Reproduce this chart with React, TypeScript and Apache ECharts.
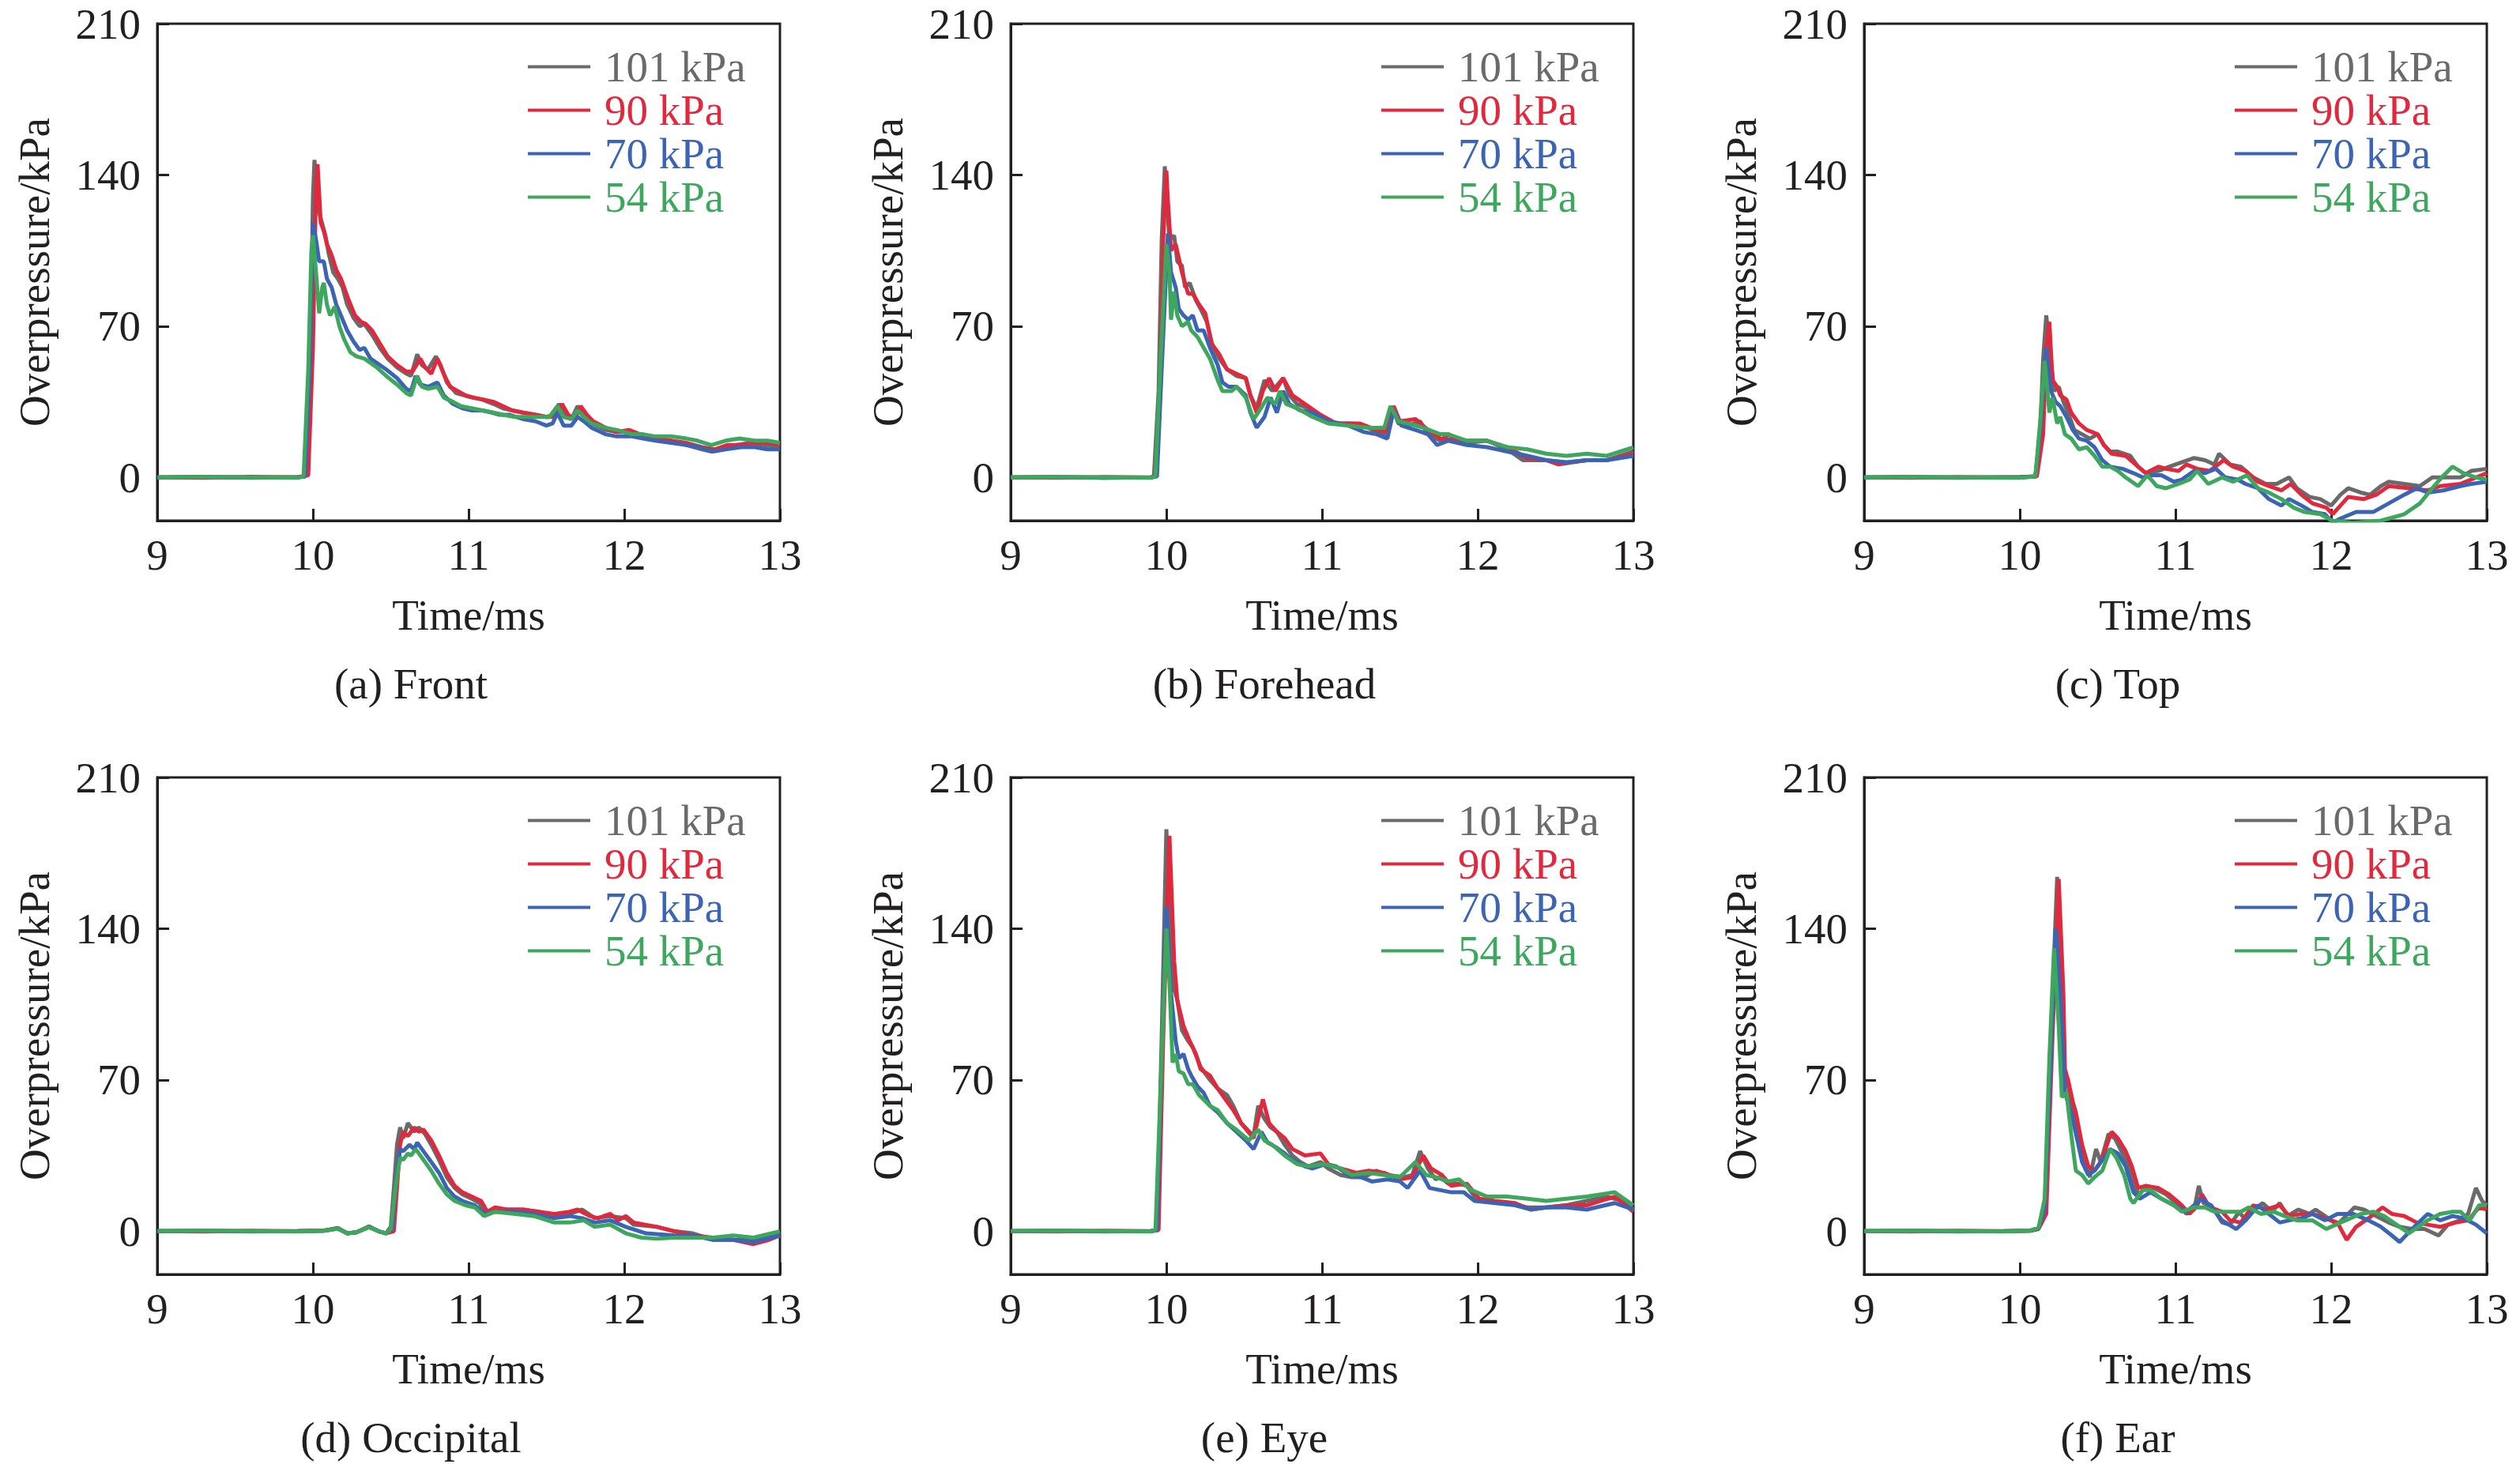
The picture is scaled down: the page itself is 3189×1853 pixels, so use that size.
import React, { useEffect, useRef } from "react";
import * as echarts from "echarts";

const NAMES = ["101 kPa", "90 kPa", "70 kPa", "54 kPa"];
const COLORS = ["#6a6a6a", "#e2283d", "#3c64b4", "#3ea75e"];
const Y_TICKS = [0, 70, 140, 210];
const X_MIN = 9;
const X_MAX = 13;
const Y_MIN = -20;
const Y_MAX = 210;
const CAPTIONS = ["(a) Front", "(b) Forehead", "(c) Top", "(d) Occipital", "(e) Eye", "(f) Ear"];

// (a) Front
const A_101 = [[9,0],[9.3,0.3],[9.6,-0.2],[9.9,0.2],[9.95,0.5],[9.98,40],[10.0,130],[10.01,147],[10.03,125],[10.05,120],[10.08,112],[10.1,104],[10.13,95],[10.16,92],[10.19,88],[10.22,80],[10.26,74],[10.3,70],[10.33,71],[10.38,66],[10.43,60],[10.48,55],[10.54,51],[10.6,48],[10.63,47],[10.67,57],[10.7,52],[10.74,50],[10.79,56],[10.82,52],[10.86,44],[10.92,39],[10.97,38],[11.02,37],[11.09,36],[11.16,34],[11.22,32],[11.28,31],[11.35,30],[11.43,29],[11.5,28],[11.55,29],[11.58,34],[11.62,29],[11.66,27],[11.7,33],[11.74,29],[11.79,25],[11.88,22],[11.95,21],[12.02,21],[12.1,19],[12.2,18],[12.3,17],[12.4,15],[12.5,13],[12.56,12],[12.64,14],[12.72,15],[12.81,16],[12.9,15],[13,14]];
const A_90 = [[9,0],[9.3,-0.2],[9.6,0.3],[9.9,0],[9.97,1],[10.0,60],[10.02,135],[10.03,145],[10.05,118],[10.07,114],[10.09,108],[10.12,103],[10.15,96],[10.18,92],[10.2,88],[10.23,82],[10.27,75],[10.31,72],[10.34,71],[10.38,68],[10.43,62],[10.48,56],[10.54,52],[10.6,49],[10.64,49],[10.69,55],[10.72,51],[10.76,48],[10.8,55],[10.84,48],[10.88,42],[10.93,40],[10.98,38],[11.03,37],[11.1,36],[11.16,35],[11.22,33],[11.28,31],[11.35,30],[11.43,29],[11.5,28],[11.56,28],[11.6,34],[11.64,29],[11.68,27],[11.72,33],[11.76,29],[11.8,26],[11.88,23],[11.95,21],[12.03,22],[12.1,20],[12.2,18],[12.3,17],[12.4,16],[12.5,14],[12.58,13],[12.66,15],[12.75,15],[12.85,16],[12.93,16],[13,15]];
const A_70 = [[9,0],[9.3,0.2],[9.6,-0.1],[9.9,0],[9.95,0.5],[9.98,50],[10.0,118],[10.02,110],[10.04,100],[10.07,100],[10.09,92],[10.12,88],[10.15,80],[10.18,75],[10.22,68],[10.26,63],[10.3,59],[10.33,60],[10.37,55],[10.41,53],[10.47,50],[10.54,46],[10.6,41],[10.63,40],[10.66,47],[10.69,43],[10.74,42],[10.8,44],[10.84,38],[10.9,34],[10.96,32],[11.02,31],[11.09,31],[11.15,30],[11.2,29],[11.26,29],[11.35,27],[11.43,26],[11.5,24],[11.54,25],[11.57,30],[11.61,24],[11.66,24],[11.7,28],[11.74,26],[11.79,23],[11.88,20],[11.95,19],[12.05,19],[12.12,18],[12.2,17],[12.3,16],[12.4,15],[12.48,14],[12.57,12],[12.65,13],[12.75,14],[12.84,14],[12.92,13],[13,13]];
const A_54 = [[9,0],[9.3,0.2],[9.6,0],[9.9,-0.2],[9.94,0.5],[9.97,50],[9.99,105],[10.0,112],[10.02,95],[10.04,76],[10.06,88],[10.07,90],[10.09,80],[10.11,75],[10.14,79],[10.17,70],[10.2,64],[10.24,58],[10.28,56],[10.33,55],[10.37,53],[10.41,51],[10.47,47],[10.54,43],[10.6,39],[10.63,38],[10.67,47],[10.7,42],[10.74,41],[10.8,42],[10.84,37],[10.9,35],[10.95,33],[11.02,32],[11.09,31],[11.16,30],[11.22,29],[11.3,28],[11.38,28],[11.45,28],[11.52,28],[11.57,33],[11.61,28],[11.66,27],[11.7,31],[11.74,28],[11.79,25],[11.88,23],[11.95,22],[12.05,20],[12.12,20],[12.2,19],[12.3,19],[12.4,18],[12.47,17],[12.56,15],[12.65,17],[12.74,18],[12.84,17],[12.92,17],[13,16]];

// (b) Forehead
const B_101 = [[9,0],[9.3,0.2],[9.6,-0.2],[9.9,0],[9.92,0.5],[9.95,40],[9.97,110],[9.99,144],[10.0,130],[10.02,110],[10.05,112],[10.07,100],[10.1,98],[10.12,88],[10.15,90],[10.19,82],[10.22,78],[10.26,72],[10.3,60],[10.34,55],[10.39,50],[10.45,47],[10.51,46],[10.54,38],[10.58,32],[10.63,45],[10.68,40],[10.75,46],[10.79,38],[10.84,34],[10.91,32],[10.99,28],[11.04,26],[11.12,25],[11.19,25],[11.27,24],[11.35,21],[11.41,20],[11.45,33],[11.49,25],[11.55,24],[11.63,26],[11.68,20],[11.76,17],[11.81,20],[11.93,16],[12.06,17],[12.19,13],[12.29,8],[12.44,8],[12.57,7],[12.7,8],[12.83,8],[13,12]];
const B_90 = [[9,0],[9.3,-0.2],[9.6,0.2],[9.9,0],[9.93,0.5],[9.96,40],[9.98,110],[10.0,142],[10.01,128],[10.03,105],[10.06,108],[10.1,95],[10.14,85],[10.17,85],[10.21,80],[10.25,76],[10.29,62],[10.34,57],[10.39,50],[10.45,48],[10.51,46],[10.54,38],[10.58,30],[10.62,40],[10.66,46],[10.7,40],[10.75,46],[10.81,38],[10.89,34],[10.99,29],[11.09,25],[11.24,25],[11.35,22],[11.42,21],[11.46,33],[11.5,26],[11.6,27],[11.68,22],[11.76,18],[11.93,17],[12.06,17],[12.19,14],[12.32,9],[12.44,8],[12.52,6],[12.7,8],[12.83,8],[13,11]];
const B_70 = [[9,0],[9.3,0.2],[9.6,-0.2],[9.9,0],[9.94,0.5],[9.97,50],[10.01,113],[10.03,95],[10.06,88],[10.08,78],[10.11,75],[10.14,73],[10.17,75],[10.2,68],[10.24,68],[10.28,60],[10.33,52],[10.36,44],[10.4,42],[10.45,42],[10.51,38],[10.54,30],[10.58,23],[10.63,28],[10.67,37],[10.71,30],[10.75,40],[10.79,34],[10.86,31],[10.94,30],[11.04,26],[11.17,24],[11.27,21],[11.35,20],[11.42,18],[11.46,31],[11.51,24],[11.6,22],[11.68,20],[11.74,15],[11.81,17],[11.93,15],[12.06,14],[12.19,12],[12.32,10],[12.44,8],[12.57,7],[12.7,8],[12.83,8],[13,10]];
const B_54 = [[9,0],[9.3,0.2],[9.6,0],[9.9,-0.2],[9.93,0.5],[9.96,50],[10.0,108],[10.02,95],[10.03,73],[10.05,86],[10.07,75],[10.1,70],[10.14,72],[10.16,68],[10.2,65],[10.24,60],[10.28,55],[10.33,45],[10.36,40],[10.42,40],[10.45,42],[10.51,37],[10.56,27],[10.59,30],[10.65,37],[10.7,34],[10.73,40],[10.77,34],[10.84,32],[10.94,28],[11.04,25],[11.17,24],[11.3,23],[11.4,23],[11.44,33],[11.49,26],[11.55,25],[11.65,23],[11.76,20],[11.81,20],[11.93,17],[12.06,17],[12.19,14],[12.32,13],[12.44,11],[12.57,10],[12.7,11],[12.83,10],[13,14]];

// (c) Top
const C_101 = [[9,0],[9.3,0.2],[9.6,-0.2],[10.0,0.2],[10.1,0.5],[10.13,20],[10.15,55],[10.17,75],[10.2,55],[10.22,40],[10.25,42],[10.28,35],[10.31,30],[10.35,22],[10.4,20],[10.45,18],[10.5,20],[10.54,15],[10.58,12],[10.63,12],[10.71,10],[10.76,5],[10.81,2],[10.89,3],[10.96,5],[11.04,7],[11.12,9],[11.19,8],[11.25,6],[11.28,11],[11.35,6],[11.42,5],[11.5,0],[11.58,-3],[11.65,-3],[11.73,0],[11.78,-5],[11.86,-9],[11.93,-10],[12.0,-13],[12.06,-8],[12.11,-5],[12.19,-7],[12.25,-8],[12.32,-4],[12.37,-2],[12.47,-3],[12.57,-4],[12.65,0],[12.78,0],[12.83,0],[12.9,3],[13,4]];
const C_90 = [[9,0],[9.3,-0.2],[9.6,0.2],[10.0,0],[10.11,0.5],[10.15,20],[10.17,60],[10.19,72],[10.21,45],[10.24,42],[10.26,38],[10.3,36],[10.33,30],[10.38,25],[10.43,22],[10.5,20],[10.54,15],[10.59,11],[10.68,10],[10.76,5],[10.81,2],[10.89,5],[10.94,4],[11.02,3],[11.07,6],[11.14,4],[11.22,3],[11.31,8],[11.37,5],[11.45,3],[11.53,-2],[11.6,-4],[11.68,-6],[11.74,-3],[11.81,-8],[11.88,-12],[11.97,-14],[12.01,-17],[12.06,-13],[12.11,-9],[12.21,-10],[12.29,-8],[12.37,-4],[12.5,-5],[12.62,-6],[12.7,-4],[12.83,-3],[13,2]];
const C_70 = [[9,0],[9.3,0.2],[9.6,-0.1],[10.0,0.1],[10.1,0.5],[10.13,20],[10.17,60],[10.2,40],[10.23,35],[10.26,33],[10.3,28],[10.34,22],[10.38,18],[10.43,17],[10.48,14],[10.53,8],[10.58,5],[10.66,4],[10.73,2],[10.79,0],[10.84,1],[10.91,1],[10.99,-2],[11.04,-1],[11.12,3],[11.19,2],[11.26,4],[11.32,0],[11.4,-1],[11.45,-3],[11.53,-5],[11.6,-10],[11.68,-13],[11.73,-10],[11.81,-13],[11.88,-16],[11.96,-17],[12.01,-21],[12.06,-19],[12.16,-16],[12.27,-16],[12.37,-12],[12.47,-8],[12.55,-5],[12.62,-7],[12.72,-6],[12.83,-4],[12.9,-3],[13,-2]];
const C_54 = [[9,0],[9.3,0.2],[9.6,0],[10.0,-0.2],[10.1,0.5],[10.13,25],[10.16,54],[10.19,30],[10.21,37],[10.24,25],[10.26,28],[10.29,20],[10.33,18],[10.38,13],[10.43,14],[10.48,10],[10.53,5],[10.58,5],[10.63,3],[10.68,0],[10.76,-4],[10.82,1],[10.88,-4],[10.94,-5],[11.02,-3],[11.09,-1],[11.14,3],[11.21,-3],[11.3,0],[11.37,-2],[11.46,1],[11.53,-5],[11.6,-7],[11.68,-10],[11.76,-14],[11.83,-16],[11.93,-17],[12.01,-20],[12.14,-21],[12.32,-20],[12.47,-17],[12.57,-12],[12.65,-5],[12.71,0],[12.78,5],[12.85,2],[12.93,0],[13,-1]];

// (d) Occipital
const D_101 = [[9,0],[9.3,0.2],[9.6,-0.2],[9.9,0],[10.07,0.3],[10.16,1.5],[10.22,-1],[10.28,-0.5],[10.36,2],[10.42,0],[10.47,-1],[10.5,2],[10.52,20],[10.54,40],[10.56,48],[10.58,43],[10.61,50],[10.65,46],[10.68,48],[10.72,45],[10.76,40],[10.81,33],[10.86,25],[10.91,20],[10.96,17],[11.02,15],[11.07,13],[11.1,9],[11.17,10],[11.25,10],[11.35,10],[11.45,9],[11.55,7],[11.65,8],[11.73,10],[11.81,6],[11.91,7],[12.01,6],[12.06,3],[12.21,2],[12.32,0],[12.44,-1],[12.57,-4],[12.7,-4],[12.83,-4],[13,-1]];
const D_90 = [[9,0],[9.3,-0.2],[9.6,0.2],[9.9,0],[10.07,0.2],[10.16,1.2],[10.22,-1],[10.28,-0.5],[10.36,2.2],[10.42,0],[10.47,-1],[10.52,0],[10.54,20],[10.56,40],[10.58,46],[10.61,44],[10.65,48],[10.68,46],[10.71,47],[10.76,42],[10.81,35],[10.86,27],[10.91,21],[10.96,18],[11.02,16],[11.08,14],[11.12,9],[11.17,11],[11.25,10],[11.35,10],[11.45,9],[11.55,8],[11.65,9],[11.7,10],[11.78,7],[11.83,6],[11.91,8],[11.96,5],[12.01,7],[12.06,4],[12.21,2],[12.32,0],[12.44,-2],[12.57,-3],[12.7,-4],[12.83,-6],[12.93,-4],[13,-2]];
const D_70 = [[9,0],[9.3,0.2],[9.6,-0.1],[9.9,0],[10.07,0.2],[10.16,1.3],[10.22,-1],[10.28,-0.5],[10.36,2],[10.42,0],[10.47,-1],[10.51,1],[10.53,20],[10.56,38],[10.58,37],[10.62,40],[10.65,38],[10.67,41],[10.71,37],[10.76,32],[10.81,27],[10.86,20],[10.91,16],[10.96,14],[11.04,12],[11.1,8],[11.17,9],[11.3,9],[11.42,8],[11.55,6],[11.65,7],[11.73,6],[11.81,4],[11.91,5],[12.01,2],[12.14,-1],[12.32,-2],[12.44,-2],[12.57,-4],[12.7,-4],[12.83,-5],[13,-2]];
const D_54 = [[9,0],[9.3,0.2],[9.6,0],[9.9,-0.2],[10.07,0.2],[10.16,1.2],[10.22,-1],[10.28,-0.5],[10.36,1.8],[10.42,0],[10.47,-1],[10.5,1],[10.53,20],[10.56,34],[10.58,33],[10.61,36],[10.63,35],[10.66,38],[10.7,34],[10.76,28],[10.81,22],[10.86,17],[10.91,14],[10.98,12],[11.04,11],[11.1,7],[11.17,9],[11.3,8],[11.42,7],[11.55,4],[11.65,4],[11.74,5],[11.81,2],[11.91,3],[12.01,-1],[12.11,-3],[12.21,-3.5],[12.32,-3],[12.44,-3],[12.57,-3],[12.7,-2],[12.83,-3],[13,0]];

// (e) Eye
const E_101 = [[9,0],[9.3,0.2],[9.6,-0.2],[9.9,0],[9.94,0.5],[9.97,90],[10.0,186],[10.03,130],[10.05,112],[10.07,107],[10.1,93],[10.14,88],[10.17,85],[10.22,76],[10.28,70],[10.33,66],[10.39,63],[10.43,58],[10.48,50],[10.56,44],[10.59,58],[10.63,52],[10.67,48],[10.71,46],[10.76,40],[10.81,35],[10.86,32],[10.91,30],[10.99,32],[11.04,29],[11.12,26],[11.19,25],[11.27,25],[11.35,28],[11.42,26],[11.53,25],[11.58,26],[11.63,37],[11.68,29],[11.73,24],[11.76,25],[11.81,22],[11.88,22],[11.93,21],[12.0,14],[12.06,14],[12.19,13],[12.32,11],[12.44,11],[12.57,12],[12.7,14],[12.83,16],[12.93,14],[13,10]];
const E_90 = [[9,0],[9.3,-0.2],[9.6,0.2],[9.9,0],[9.95,0.5],[9.98,90],[10.02,183],[10.05,125],[10.07,107],[10.11,95],[10.15,88],[10.19,82],[10.22,75],[10.28,72],[10.33,66],[10.39,60],[10.43,56],[10.48,50],[10.56,43],[10.62,61],[10.66,50],[10.71,46],[10.76,43],[10.81,38],[10.89,35],[10.99,36],[11.04,31],[11.12,29],[11.22,27],[11.3,28],[11.4,27],[11.5,24],[11.58,25],[11.65,35],[11.7,29],[11.77,26],[11.83,21],[11.93,22],[12.01,15],[12.11,14],[12.24,13],[12.34,10],[12.44,11],[12.57,12],[12.7,12],[12.88,16],[13,9]];
const E_70 = [[9,0],[9.3,0.2],[9.6,-0.1],[9.9,0],[9.94,0.5],[9.97,80],[10.0,150],[10.03,110],[10.06,88],[10.08,80],[10.11,82],[10.14,75],[10.16,72],[10.2,67],[10.24,64],[10.28,58],[10.33,55],[10.39,50],[10.45,46],[10.51,42],[10.56,38],[10.61,46],[10.65,41],[10.7,39],[10.76,36],[10.81,33],[10.89,30],[10.94,29],[11.02,31],[11.09,30],[11.17,26],[11.25,25],[11.32,23],[11.42,24],[11.5,23],[11.55,20],[11.63,28],[11.69,20],[11.76,19],[11.83,18],[11.91,18],[11.98,14],[12.11,13],[12.24,12],[12.34,10],[12.44,11],[12.57,11],[12.7,10],[12.88,13],[13,10]];
const E_54 = [[9,0],[9.3,0.2],[9.6,0],[9.9,-0.2],[9.93,0.5],[9.97,80],[10.0,140],[10.02,115],[10.04,78],[10.06,82],[10.08,74],[10.11,73],[10.14,68],[10.17,68],[10.21,63],[10.28,58],[10.33,56],[10.39,50],[10.45,47],[10.53,42],[10.59,47],[10.63,42],[10.68,40],[10.76,35],[10.84,31],[10.91,30],[11.02,31],[11.12,29],[11.19,26],[11.3,27],[11.4,26],[11.5,25],[11.6,32],[11.67,26],[11.73,25],[11.81,23],[11.88,24],[11.96,19],[12.06,16],[12.19,16],[12.32,15],[12.44,14],[12.57,15],[12.7,16],[12.88,18],[13,12]];

// (f) Ear
const F_101 = [[9,0],[9.3,0.2],[9.6,-0.2],[9.9,0],[10.07,0.3],[10.12,1.5],[10.16,10],[10.2,90],[10.24,164],[10.26,110],[10.28,75],[10.31,68],[10.33,58],[10.35,52],[10.39,38],[10.43,30],[10.45,25],[10.49,38],[10.52,32],[10.57,45],[10.61,43],[10.66,36],[10.7,30],[10.74,20],[10.77,17],[10.81,21],[10.86,20],[10.94,17],[11.02,12],[11.07,8],[11.12,10],[11.15,21],[11.18,13],[11.23,12],[11.3,4],[11.35,3],[11.41,9],[11.45,5],[11.51,10],[11.56,13],[11.62,9],[11.67,13],[11.72,7],[11.79,10],[11.86,8],[11.9,10],[11.96,7],[12.04,3],[12.15,11],[12.21,10],[12.29,7],[12.37,4],[12.44,2],[12.52,1],[12.6,1],[12.69,-2],[12.75,3],[12.83,5],[12.88,8],[12.93,20],[12.97,14],[13,12]];
const F_90 = [[9,0],[9.3,-0.2],[9.6,0.2],[9.9,0],[10.07,0.2],[10.12,1],[10.17,8],[10.21,90],[10.25,163],[10.28,110],[10.29,75],[10.31,70],[10.34,60],[10.36,55],[10.4,40],[10.44,30],[10.48,28],[10.52,32],[10.59,46],[10.63,43],[10.68,37],[10.72,30],[10.76,20],[10.81,21],[10.89,20],[10.96,17],[11.04,12],[11.09,8],[11.14,12],[11.17,17],[11.22,11],[11.3,9],[11.35,5],[11.42,4],[11.5,12],[11.58,10],[11.67,12],[11.73,7],[11.81,8],[11.88,8],[11.96,6],[12.04,4],[12.1,-4],[12.16,2],[12.24,6],[12.33,11],[12.39,8],[12.47,7],[12.55,4],[12.62,3],[12.7,2],[12.8,4],[12.88,5],[12.95,11],[13,10]];
const F_70 = [[9,0],[9.3,0.2],[9.6,-0.1],[9.9,0],[10.07,0.2],[10.12,1.2],[10.16,10],[10.2,80],[10.23,140],[10.26,110],[10.29,64],[10.33,55],[10.37,42],[10.4,32],[10.44,26],[10.48,28],[10.53,33],[10.58,38],[10.63,36],[10.68,30],[10.73,18],[10.77,15],[10.84,18],[10.91,15],[10.99,12],[11.07,9],[11.17,15],[11.22,12],[11.3,5],[11.39,1],[11.45,5],[11.53,12],[11.6,8],[11.67,4],[11.73,5],[11.81,6],[11.88,8],[11.96,5],[12.04,8],[12.14,8],[12.24,5],[12.32,2],[12.39,-2],[12.44,-5],[12.52,1],[12.62,8],[12.7,5],[12.78,7],[12.85,6],[12.93,3],[13,-1]];
const F_54 = [[9,0],[9.3,0.2],[9.6,0],[9.9,-0.2],[10.07,0.3],[10.12,1.5],[10.16,15],[10.19,80],[10.22,131],[10.25,95],[10.27,62],[10.3,64],[10.33,45],[10.36,28],[10.4,26],[10.44,22],[10.48,25],[10.53,28],[10.58,38],[10.62,34],[10.67,26],[10.71,15],[10.73,13],[10.79,19],[10.84,19],[10.91,15],[10.99,12],[11.04,9],[11.12,11],[11.19,11],[11.25,9],[11.35,9],[11.42,9],[11.47,11],[11.55,8],[11.63,9],[11.7,7],[11.78,5],[11.88,5],[11.97,1],[12.06,4],[12.19,8],[12.27,9],[12.34,7],[12.42,3],[12.5,-1],[12.56,2],[12.62,5],[12.7,8],[12.78,9],[12.83,9],[12.89,5],[12.95,12],[13,12]];

const PANEL_SERIES = [
  [A_101, A_90, A_70, A_54],
  [B_101, B_90, B_70, B_54],
  [C_101, C_90, C_70, C_54],
  [D_101, D_90, D_70, D_54],
  [E_101, E_90, E_70, E_54],
  [F_101, F_90, F_70, F_54],
];

const FONT = "Liberation Serif";
const INK = "#231f20";
const GRID_LEFTS = [199, 1279, 2359];
const GRID_TOPS = [30, 984];
const GRID_W = 788;
const GRID_H = 629;

function buildOption() {
  const grid: any[] = [];
  const xAxis: any[] = [];
  const yAxis: any[] = [];
  const legend: any[] = [];
  const series: any[] = [];
  const graphic: any[] = [];
  PANEL_SERIES.forEach((panel, i) => {
    const left = GRID_LEFTS[i % 3];
    const top = GRID_TOPS[Math.floor(i / 3)];
    grid.push({
      left, top, width: GRID_W, height: GRID_H,
      show: true, borderColor: INK, borderWidth: 3, backgroundColor: "transparent",
    });
    xAxis.push({
      type: "value", gridIndex: i, min: X_MIN, max: X_MAX, interval: 1,
      axisLine: { show: true, onZero: false, lineStyle: { color: INK, width: 3 } },
      axisTick: { show: true, inside: true, length: 15, lineStyle: { color: INK, width: 3 } },
      axisLabel: { fontSize: 55, fontFamily: FONT, color: INK, margin: 21, lineHeight: 44 },
      splitLine: { show: false },
      name: "Time/ms", nameLocation: "middle", nameGap: 92,
      nameTextStyle: { fontSize: 55, fontFamily: FONT, color: INK },
    });
    yAxis.push({
      type: "value", gridIndex: i, min: Y_MIN, max: Y_MAX,
      axisLine: { show: true, onZero: false, lineStyle: { color: INK, width: 3 } },
      axisTick: { show: true, inside: true, length: 15, customValues: Y_TICKS, lineStyle: { color: INK, width: 3 } },
      axisLabel: { fontSize: 55, fontFamily: FONT, color: INK, margin: 21, customValues: Y_TICKS, lineHeight: 40 },
      splitLine: { show: false },
      name: "Overpressure/kPa", nameLocation: "middle", nameRotate: 90, nameGap: 128,
      nameTextStyle: { fontSize: 55, fontFamily: FONT, color: INK },
    });
    legend.push({
      left: left + 469, top: top + 27, orient: "vertical",
      itemWidth: 79, itemHeight: 4, itemGap: 0, icon: "rect", padding: 0,
      selectedMode: false,
      textStyle: { fontSize: 55, fontFamily: FONT, lineHeight: 55, padding: [0, 0, 0, 13] },
      data: NAMES.map((n, k) => ({ name: n, textStyle: { color: COLORS[k] } })),
    });
    panel.forEach((d, k) => {
      series.push({
        type: "line", name: NAMES[k], xAxisIndex: i, yAxisIndex: i,
        data: d, symbol: "none", showSymbol: false, silent: true,
        color: COLORS[k], lineStyle: { width: 5, color: COLORS[k] }, z: 2 + k,
      });
    });
    graphic.push({
      type: "text",
      x: left + 321,
      y: top + 835,
      style: {
        text: CAPTIONS[i], fontSize: 55, fontFamily: FONT, fill: INK,
        align: "center", verticalAlign: "middle",
      },
    });
  });
  return {
    animation: false,
    backgroundColor: "#ffffff",
    grid, xAxis, yAxis, legend, series, graphic,
  };
}

export default function App() {
  const ref = useRef<HTMLDivElement>(null);
  useEffect(() => {
    if (!ref.current) return;
    const chart = echarts.init(ref.current, null, { renderer: "svg" });
    chart.setOption(buildOption() as any);
    return () => chart.dispose();
  }, []);
  return (
    <div
      ref={ref}
      style={{ position: "absolute", left: 0, top: 0, width: 3189, height: 1853, background: "#fff" }}
    />
  );
}
